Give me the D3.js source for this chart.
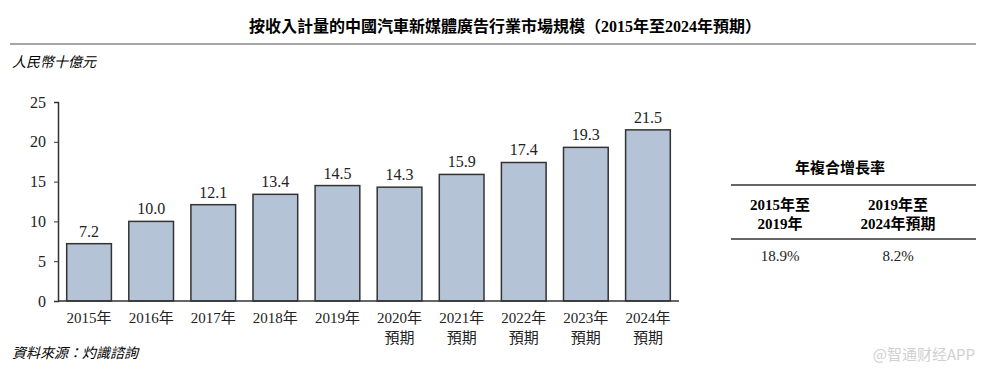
<!DOCTYPE html>
<html>
<head>
<meta charset="utf-8">
<script src="https://cdn.jsdelivr.net/npm/d3@7"></script>
<style>
  body { margin: 0; background: #fff; }
  svg { font-family: "Liberation Serif", "Noto Sans CJK TC", serif; }
</style>
</head>
<body>
<svg id="chart" width="985" height="375"></svg>
<script>
// data
var years = ["2015年", "2016年", "2017年", "2018年", "2019年", "2020年", "2021年", "2022年", "2023年", "2024年"];
var forecast = [false, false, false, false, false, true, true, true, true, true];
var values = [7.2, 10.0, 12.1, 13.4, 14.5, 14.3, 15.9, 17.4, 19.3, 21.5];
var yTicks = [0, 5, 10, 15, 20, 25];
var cagrPeriods = [["2015年至", "2019年"], ["2019年至", "2024年預期"]];
var cagrValues = ["18.9%", "8.2%"];

var svg = d3.select("#chart");

// title + rule
svg.append("text")
  .attr("x", 505).attr("y", 32)
  .attr("text-anchor", "middle")
  .style("font-size", "16px").style("font-weight", "bold")
  .text("按收入計量的中國汽車新媒體廣告行業市場規模（2015年至2024年預期）");
svg.append("line")
  .attr("x1", 10).attr("x2", 976).attr("y1", 44).attr("y2", 44)
  .attr("stroke", "#888").attr("stroke-width", 1.5);

svg.append("text")
  .attr("x", 12).attr("y", 67)
  .style("font-size", "14px").style("font-style", "italic")
  .text("人民幣十億元");

var x = d3.scaleBand()
  .domain(years)
  .range([58, 679])
  .paddingInner(0.28)
  .paddingOuter(0.14);

var y = d3.scaleLinear()
  .domain([0, 25])
  .range([301, 102]);

// bars
svg.selectAll("rect.bar")
  .data(values)
  .enter().append("rect")
  .attr("class", "bar")
  .attr("x", function(d, i) { return x(years[i]); })
  .attr("y", function(d) { return y(d); })
  .attr("width", x.bandwidth())
  .attr("height", function(d) { return y(0) - y(d); })
  .attr("fill", "#b5c3d7")
  .attr("stroke", "#333")
  .attr("stroke-width", 1.5);

svg.selectAll("text.val")
  .data(values)
  .enter().append("text")
  .attr("class", "val")
  .attr("x", function(d, i) { return x(years[i]) + x.bandwidth() / 2; })
  .attr("y", function(d) { return y(d) - 7; })
  .attr("text-anchor", "middle")
  .style("font-size", "16px").attr("fill", "#222")
  .text(function(d) { return d.toFixed(1); });

// y axis
var yAxis = svg.append("g")
  .attr("transform", "translate(58,0)")
  .call(d3.axisLeft(y).tickValues(yTicks).tickSize(4).tickPadding(8));
yAxis.select(".domain").attr("stroke", "#333").attr("stroke-width", 1.5);
yAxis.selectAll(".tick line").attr("stroke", "#333");
yAxis.selectAll(".tick text")
  .style("font-size", "16px").style("font-family", "Liberation Serif").attr("fill", "#222");

// x axis
svg.append("line")
  .attr("x1", 58).attr("x2", 679).attr("y1", y(0)).attr("y2", y(0))
  .attr("stroke", "#333").attr("stroke-width", 1.5);

var xl = svg.selectAll("text.xl")
  .data(years)
  .enter().append("text")
  .attr("class", "xl")
  .attr("x", function(d) { return x(d) + x.bandwidth() / 2; })
  .attr("y", 323)
  .attr("text-anchor", "middle")
  .style("font-size", "15px").attr("fill", "#222");
xl.append("tspan").text(function(d) { return d; });
xl.filter(function(d, i) { return forecast[i]; })
  .append("tspan")
  .attr("x", function(d) { return x(d) + x.bandwidth() / 2; })
  .attr("dy", 20)
  .text("預期");

svg.append("text")
  .attr("x", 12).attr("y", 358)
  .style("font-size", "14px").style("font-style", "italic")
  .text("資料來源：灼識諮詢");

// CAGR table
svg.append("text")
  .attr("x", 840).attr("y", 173)
  .attr("text-anchor", "middle")
  .style("font-size", "15px").style("font-weight", "bold")
  .text("年複合增長率");
svg.append("line").attr("x1", 731).attr("x2", 976).attr("y1", 185).attr("y2", 185)
  .attr("stroke", "#333").attr("stroke-width", 1.5);
svg.append("line").attr("x1", 731).attr("x2", 976).attr("y1", 239).attr("y2", 239)
  .attr("stroke", "#333").attr("stroke-width", 1.5);

var colX = [780, 898];
cagrPeriods.forEach(function(p, i) {
  svg.append("text")
    .attr("x", colX[i]).attr("y", 210)
    .attr("text-anchor", "middle")
    .style("font-size", "15px").style("font-weight", "bold")
    .text(p[0]);
  svg.append("text")
    .attr("x", colX[i]).attr("y", 229)
    .attr("text-anchor", "middle")
    .style("font-size", "15px").style("font-weight", "bold")
    .text(p[1]);
  svg.append("text")
    .attr("x", colX[i]).attr("y", 261)
    .attr("text-anchor", "middle")
    .style("font-size", "15px").attr("fill", "#222")
    .text(cagrValues[i]);
});

// watermark
svg.append("text")
  .attr("x", 975).attr("y", 360)
  .attr("text-anchor", "end")
  .style("font-family", "Noto Sans CJK SC, sans-serif")
  .style("font-size", "15px").attr("fill", "#d0d0d0")
  .text("@智通财经APP");
</script>
</body>
</html>
